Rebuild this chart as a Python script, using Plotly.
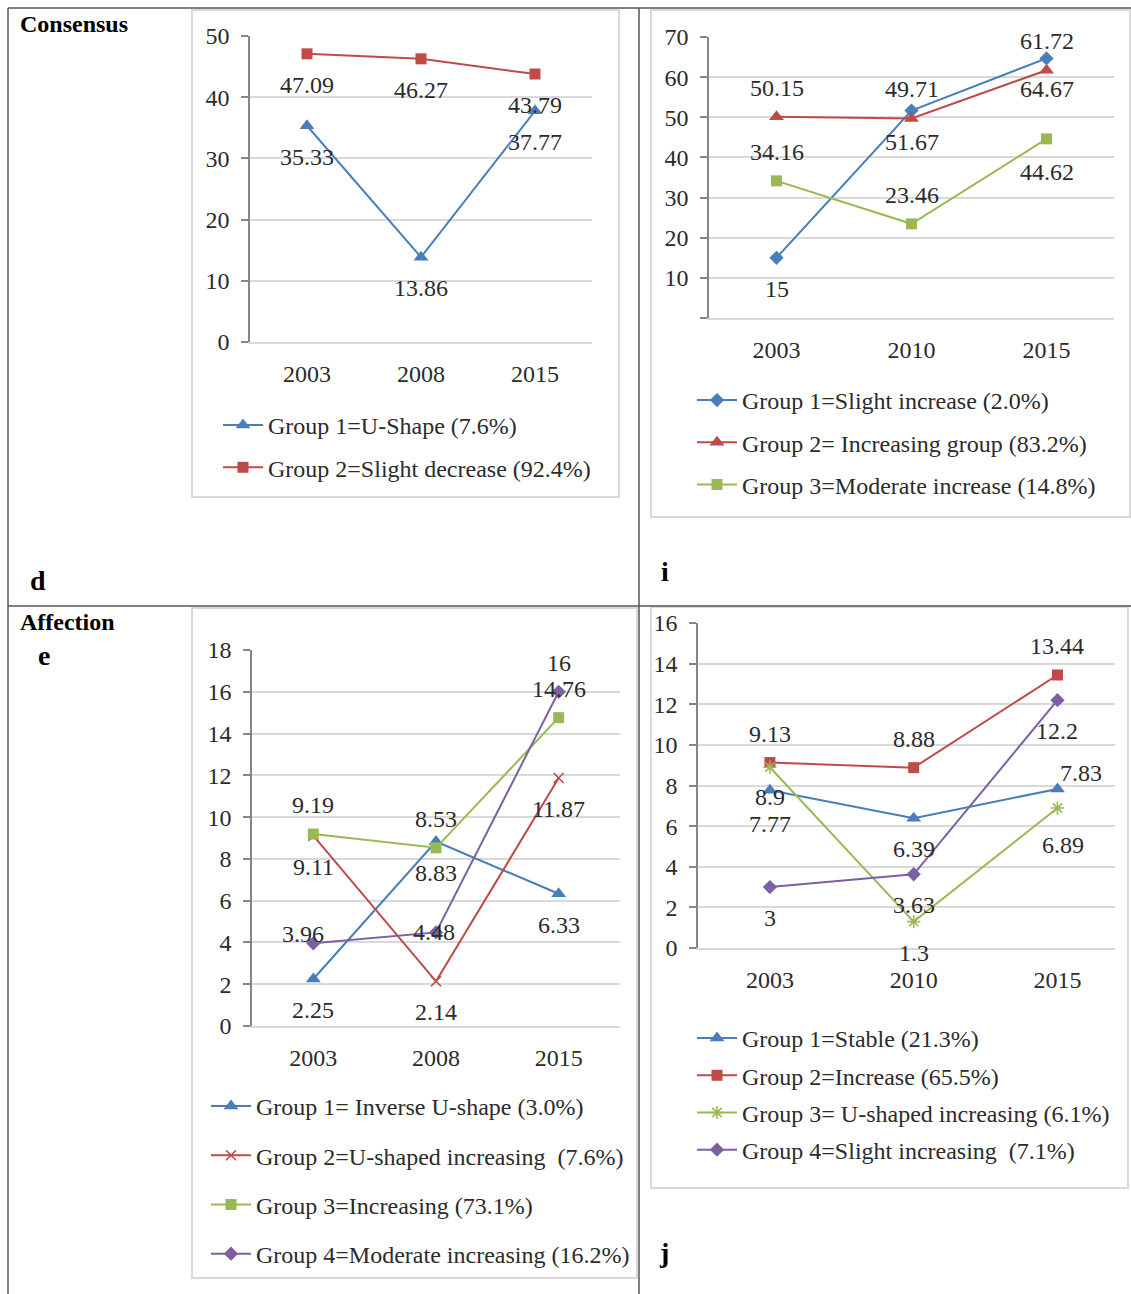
import plotly.graph_objects as go

W, H = 1131, 1294

# ---------------- data ----------------
d_years = ["2003", "2008", "2015"]
d_names = ["Group 1=U-Shape (7.6%)", "Group 2=Slight decrease (92.4%)"]
d_g1 = [35.33, 13.86, 37.77]
d_g2 = [47.09, 46.27, 43.79]

i_years = ["2003", "2010", "2015"]
i_names = ["Group 1=Slight increase (2.0%)", "Group 2= Increasing group (83.2%)",
           "Group 3=Moderate increase (14.8%)"]
i_g1 = [15, 51.67, 64.67]
i_g2 = [50.15, 49.71, 61.72]
i_g3 = [34.16, 23.46, 44.62]

e_years = ["2003", "2008", "2015"]
e_names = ["Group 1= Inverse U-shape (3.0%)", "Group 2=U-shaped increasing  (7.6%)",
           "Group 3=Increasing (73.1%)", "Group 4=Moderate increasing (16.2%)"]
e_g1 = [2.25, 8.83, 6.33]
e_g2 = [9.11, 2.14, 11.87]
e_g3 = [9.19, 8.53, 14.76]
e_g4 = [3.96, 4.48, 16]

j_years = ["2003", "2010", "2015"]
j_names = ["Group 1=Stable (21.3%)", "Group 2=Increase (65.5%)",
           "Group 3= U-shaped increasing (6.1%)", "Group 4=Slight increasing  (7.1%)"]
j_g1 = [7.77, 6.39, 7.83]
j_g2 = [9.13, 8.88, 13.44]
j_g3 = [8.9, 1.3, 6.89]
j_g4 = [3, 3.63, 12.2]

d_ticks = [0, 10, 20, 30, 40, 50]
i_ticks = [0, 10, 20, 30, 40, 50, 60, 70]
i_ticktext = ["", "10", "20", "30", "40", "50", "60", "70"]
e_ticks = [0, 2, 4, 6, 8, 10, 12, 14, 16, 18]
j_ticks = [0, 2, 4, 6, 8, 10, 12, 14, 16]

# ---------------- style ----------------
BLUE, RED, GREEN, PURPLE = "#4A7EBB", "#BE4B48", "#98B954", "#7D60A0"
TXT = "#2b2b2b"
GRID = "#D9D9D9"
AX = "#868686"
FONT = "Liberation Serif"
FS = 24


def px(x):
    return x / W


def py(y):
    return 1 - y / H


# label offsets (xshift, yshift) per point
DN = (0, -31)
UP = (0, 29)
d_off = [[DN, DN, DN], [DN, DN, DN]]
i_off = [[DN, DN, DN], [UP, UP, UP], [UP, UP, (0, -33)]]
e_off = [[DN, DN, DN], [DN, DN, DN], [UP, UP, UP], [(-10, 9), (-2, 0), UP]]
j_off = [[(0, -34), DN, (24, 16)], [UP, UP, UP], [(0, -30), DN, (6, -37)], [DN, DN, DN]]

panels = [
    dict(ax="", years=d_years, names=d_names, series=[d_g1, d_g2],
         colors=[BLUE, RED], symbols=["triangle-up", "square"], sizes=[13, 11],
         off=d_off, xdom=(250, 592), ydom=(342, 36), yr=50, ticks=d_ticks,
         ticktext=[str(t) for t in d_ticks], legend="legend",
         leg=(218, 403), gap=8, xr=(-0.5, 2.5)),
    dict(ax="2", years=i_years, names=i_names, series=[i_g1, i_g2, i_g3],
         colors=[BLUE, RED, GREEN], symbols=["diamond", "triangle-up", "square"],
         sizes=[11, 13, 11], off=i_off, xdom=(709, 1114), ydom=(318, 37), yr=70,
         ticks=i_ticks, ticktext=i_ticktext, legend="legend2",
         leg=(692, 378), gap=8, xr=(-0.5, 2.5)),
    dict(ax="3", years=e_years, names=e_names, series=[e_g1, e_g2, e_g3, e_g4],
         colors=[BLUE, RED, GREEN, PURPLE],
         symbols=["triangle-up", "x-thin-open", "square", "diamond"],
         sizes=[13, 10, 11, 11], off=e_off, xdom=(252, 620), ydom=(1026, 650), yr=18,
         ticks=e_ticks, ticktext=[str(t) for t in e_ticks], legend="legend3",
         leg=(206, 1084), gap=15, xr=(-0.5, 2.5)),
    dict(ax="4", years=j_years, names=j_names, series=[j_g1, j_g2, j_g3, j_g4],
         colors=[BLUE, RED, GREEN, PURPLE],
         symbols=["triangle-up", "square", "asterisk-open", "diamond"],
         sizes=[13, 11, 11, 11], off=j_off, xdom=(698, 1115), ydom=(948, 623), yr=16,
         ticks=j_ticks, ticktext=[str(t) for t in j_ticks], legend="legend4",
         leg=(692, 1016), gap=3, xr=(-0.5, 2.4)),
]

fig = go.Figure()
annotations = []
layout = {}

for p in panels:
    a = p["ax"]
    for k, (vals, name, col, sym, sz) in enumerate(
            zip(p["series"], p["names"], p["colors"], p["symbols"], p["sizes"])):
        open_sym = sym.endswith("open")
        fig.add_trace(go.Scatter(
            x=p["years"], y=vals, name=name, mode="lines+markers",
            xaxis="x" + a, yaxis="y" + a,
            line=dict(color=col, width=2),
            marker=dict(symbol=sym, size=sz, color=col,
                        line=dict(color=col, width=1.6 if open_sym else 0)),
            legend=p["legend"], legendgroup=p["legend"] + str(k),
            cliponaxis=False,
        ))
        for n, (yr_, v) in enumerate(zip(p["years"], vals)):
            dx, dy = p["off"][k][n]
            annotations.append(dict(
                x=n, y=v, xref="x" + a, yref="y" + a, text=f"{v:g}",
                showarrow=False, xanchor="center", yanchor="middle",
                xshift=dx, yshift=dy, font=dict(family=FONT, size=FS, color=TXT)))

    xa = "xaxis" + a
    ya = "yaxis" + a
    layout[xa] = dict(
        domain=[px(p["xdom"][0]), px(p["xdom"][1])], anchor="y" + a,
        type="category", range=list(p["xr"]), showgrid=False, zeroline=False,
        showline=True, linecolor=GRID, linewidth=2, ticks="",
        ticklabelstandoff=9, tickfont=dict(family=FONT, size=FS, color=TXT),
        automargin=False, fixedrange=True)
    layout[ya] = dict(
        domain=[py(p["ydom"][0]), py(p["ydom"][1])], anchor="x" + a,
        range=[0, p["yr"]], tickmode="array", tickvals=p["ticks"],
        ticktext=p["ticktext"], showgrid=True, gridcolor=GRID, gridwidth=2,
        zeroline=False, showline=True, linecolor=AX, linewidth=1.5,
        ticks="outside", ticklen=7, tickcolor=AX, tickwidth=1.5,
        ticklabelstandoff=7, tickfont=dict(family=FONT, size=FS, color=TXT),
        automargin=False, fixedrange=True)
    layout[p["legend"]] = dict(
        x=px(p["leg"][0]), y=py(p["leg"][1]), xanchor="left", yanchor="top",
        font=dict(family=FONT, size=FS, color=TXT), bgcolor="rgba(0,0,0,0)",
        tracegroupgap=p["gap"], itemwidth=40, traceorder="grouped")

# panel titles / letters
def txt(x, y, s, size, bold=True):
    annotations.append(dict(
        x=px(x), y=py(y), xref="paper", yref="paper", text=f"<b>{s}</b>" if bold else s,
        showarrow=False, xanchor="left", yanchor="middle",
        font=dict(family=FONT, size=size, color="#000000")))

txt(18, 24, "Consensus", 24)
txt(18, 622, "Affection", 24)
txt(28, 580, "d", 28)
txt(659, 571, "i", 28)
txt(36, 655, "e", 28)
txt(657, 1252, "j", 28)

shapes = []
# chart borders
for (x0, y0, x1, y1) in [(192, 10, 619, 497), (651, 10, 1130, 517),
                         (192, 608, 637, 1278), (651, 607, 1128, 1188)]:
    shapes.append(dict(type="rect", xref="paper", yref="paper",
                       x0=px(x0), x1=px(x1), y0=py(y0), y1=py(y1),
                       line=dict(color=GRID, width=2), layer="below"))
# table lines
for (x0, y0, x1, y1) in [(8, 8, 1131, 8), (8, 8, 8, 1294), (639, 8, 639, 1294),
                         (8, 606, 1131, 606)]:
    shapes.append(dict(type="line", xref="paper", yref="paper",
                       x0=px(x0), x1=px(x1), y0=py(y0), y1=py(y1),
                       line=dict(color="#555555", width=1.5)))

fig.update_layout(
    template="none",
    width=W, height=H, margin=dict(l=0, r=0, t=0, b=0, pad=0), autosize=False,
    paper_bgcolor="white", plot_bgcolor="white",
    font=dict(family=FONT, size=FS, color=TXT),
    annotations=annotations, shapes=shapes, showlegend=True,
    **layout)

fig.write_html("out.html", config={"displayModeBar": False})
